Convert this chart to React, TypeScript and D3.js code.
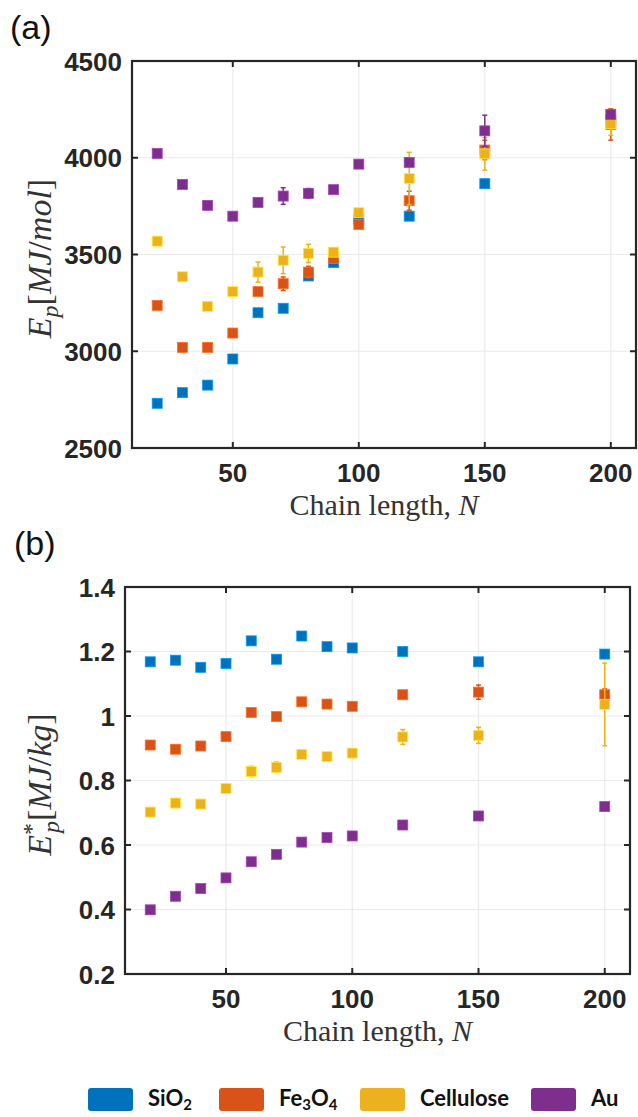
import React, { useEffect, useRef } from 'react';
import * as d3 from 'd3';

// Chain lengths (x values shared by both panels)
const chainLengths = [20, 30, 40, 50, 60, 70, 80, 90, 100, 120, 150, 200];
const materials = ['SiO2', 'Fe3O4', 'Cellulose', 'Au'];
const colors = ['#0072BD', '#D95319', '#EDB120', '#7E2F8E'];

// Panel (a): E_p [MJ/mol]
const epSiO2 = [2731, 2786, 2825, 2960, 3199, 3222, 3389, 3458, 3682, 3698, 3866, 4195];
const epFe3O4 = [3237, 3020, 3020, 3094, 3308, 3349, 3409, 3480, 3655, 3778, 4040, 4172];
const epCellulose = [3569, 3385, 3232, 3308, 3409, 3470, 3506, 3512, 3716, 3893, 4020, 4176];
const epAu = [4022, 3862, 3754, 3698, 3769, 3802, 3816, 3835, 3967, 3976, 4139, 4224];
const epSiO2Err = [5, 5, 5, 5, 5, 5, 5, 5, 5, 5, 5, 5];
const epFe3O4Err = [18, 8, 8, 15, 10, 35, 30, 15, 20, 49, 50, 81];
const epCelluloseErr = [20, 8, 8, 8, 52, 69, 47, 15, 15, 135, 84, 60];
const epAuErr = [8, 8, 8, 8, 18, 43, 25, 10, 8, 10, 81, 15];
const epTicks = [2500, 3000, 3500, 4000, 4500];

// Panel (b): E*_p [MJ/kg]
const epsSiO2 = [1.168, 1.173, 1.151, 1.163, 1.233, 1.176, 1.248, 1.215, 1.211, 1.2, 1.168, 1.192];
const epsFe3O4 = [0.91, 0.897, 0.907, 0.936, 1.011, 0.998, 1.044, 1.037, 1.03, 1.066, 1.074, 1.066];
const epsCellulose = [0.702, 0.73, 0.727, 0.775, 0.828, 0.841, 0.881, 0.874, 0.885, 0.935, 0.94, 1.036];
const epsAu = [0.399, 0.441, 0.465, 0.498, 0.548, 0.571, 0.609, 0.623, 0.628, 0.662, 0.69, 0.719];
const epsSiO2Err = [0.003, 0.003, 0.003, 0.003, 0.003, 0.003, 0.003, 0.003, 0.003, 0.003, 0.003, 0.003];
const epsFe3O4Err = [0.005, 0.005, 0.005, 0.005, 0.005, 0.005, 0.005, 0.005, 0.005, 0.012, 0.022, 0.018];
const epsCelluloseErr = [0.005, 0.005, 0.005, 0.005, 0.016, 0.016, 0.005, 0.005, 0.005, 0.023, 0.025, 0.128];
const epsAuErr = [0.005, 0.005, 0.005, 0.005, 0.005, 0.005, 0.005, 0.005, 0.005, 0.005, 0.012, 0.005];
const epsTicks = [0.2, 0.4, 0.6, 0.8, 1, 1.2, 1.4];

const xTicks = [50, 100, 150, 200];

const tickFont = '"Liberation Sans", Arial, sans-serif';
const mathFont = '"Liberation Serif", "Times New Roman", serif';
const axisColor = '#262626';

function drawPanel(svg, cfg) {
  const { left, right, top, bottom, yDomain, yTicks, fmt, series, errors, label, yLabel } = cfg;

  const x = d3.scaleLinear().domain([10, 210]).range([left, right]);
  const y = d3.scaleLinear().domain(yDomain).range([bottom, top]);
  const g = svg.append('g');

  // grid
  g.selectAll('.gx').data(xTicks).enter().append('line')
    .attr('x1', d => x(d)).attr('x2', d => x(d))
    .attr('y1', top).attr('y2', bottom)
    .attr('stroke', '#ebebeb').attr('stroke-width', 1.2);
  g.selectAll('.gy').data(yTicks).enter().append('line')
    .attr('x1', left).attr('x2', right)
    .attr('y1', d => y(d)).attr('y2', d => y(d))
    .attr('stroke', '#ebebeb').attr('stroke-width', 1.2);

  // inward ticks on all four sides
  const tl = 6;
  xTicks.forEach(t => {
    g.append('line').attr('x1', x(t)).attr('x2', x(t)).attr('y1', bottom).attr('y2', bottom - tl)
      .attr('stroke', axisColor).attr('stroke-width', 2);
    g.append('line').attr('x1', x(t)).attr('x2', x(t)).attr('y1', top).attr('y2', top + tl)
      .attr('stroke', axisColor).attr('stroke-width', 2);
  });
  yTicks.forEach(t => {
    g.append('line').attr('x1', left).attr('x2', left + tl).attr('y1', y(t)).attr('y2', y(t))
      .attr('stroke', axisColor).attr('stroke-width', 2);
    g.append('line').attr('x1', right).attr('x2', right - tl).attr('y1', y(t)).attr('y2', y(t))
      .attr('stroke', axisColor).attr('stroke-width', 2);
  });

  // box
  g.append('rect')
    .attr('x', left).attr('y', top)
    .attr('width', right - left).attr('height', bottom - top)
    .attr('fill', 'none').attr('stroke', axisColor).attr('stroke-width', 2.2);

  // tick labels
  g.selectAll('.xl').data(xTicks).enter().append('text')
    .attr('x', d => x(d)).attr('y', bottom + 34)
    .attr('text-anchor', 'middle')
    .style('font-family', tickFont).style('font-weight', 'bold').style('font-size', '26px')
    .attr('fill', axisColor)
    .text(d => d);
  g.selectAll('.yl').data(yTicks).enter().append('text')
    .attr('x', left - 10).attr('y', d => y(d) + 9.5)
    .attr('text-anchor', 'end')
    .style('font-family', tickFont).style('font-weight', 'bold').style('font-size', '26px')
    .attr('fill', axisColor)
    .text(fmt);

  // series: error bars then markers, one series at a time
  const ms = 10;
  series.forEach((vals, si) => {
    const col = colors[si];
    const sg = g.append('g');
    vals.forEach((v, i) => {
      const e = errors[si][i];
      const cx = x(chainLengths[i]);
      sg.append('line').attr('x1', cx).attr('x2', cx).attr('y1', y(v - e)).attr('y2', y(v + e))
        .attr('stroke', col).attr('stroke-width', 1.5);
      [v - e, v + e].forEach(c => {
        sg.append('line').attr('x1', cx - 2.5).attr('x2', cx + 2.5).attr('y1', y(c)).attr('y2', y(c))
          .attr('stroke', col).attr('stroke-width', 1.5);
      });
    });
    sg.selectAll('rect').data(vals).enter().append('rect')
      .attr('x', (d, i) => x(chainLengths[i]) - ms / 2)
      .attr('y', d => y(d) - ms / 2)
      .attr('width', ms).attr('height', ms)
      .attr('fill', col)
      .attr('stroke', d3.color(col).brighter(0.8).formatHex())
      .attr('stroke-width', 0.8);
  });

  // x label
  const xl = g.append('text')
    .attr('x', (left + right) / 2).attr('y', bottom + 67)
    .attr('text-anchor', 'middle')
    .style('font-family', mathFont).style('font-size', '30px')
    .attr('fill', '#333');
  xl.append('tspan').text('Chain length, ');
  xl.append('tspan').style('font-style', 'italic').text('N');

  // y label
  const yl = g.append('text')
    .attr('transform', `translate(51,${(top + bottom) / 2 + 4}) rotate(-90)`)
    .attr('text-anchor', 'middle')
    .style('font-family', mathFont).style('font-size', '34px')
    .attr('fill', '#333');
  yLabel(yl);

  // panel label
  svg.append('text')
    .attr('x', label.x).attr('y', label.y)
    .style('font-family', tickFont).style('font-size', '34px')
    .attr('fill', '#111')
    .text(label.text);
}

export default function App() {
  const ref = useRef(null);

  useEffect(() => {
    const svg = d3.select(ref.current);
    svg.selectAll('*').remove();

    drawPanel(svg, {
      left: 132, right: 636, top: 61, bottom: 448,
      yDomain: [2500, 4500], yTicks: epTicks, fmt: d => d,
      series: [epSiO2, epFe3O4, epCellulose, epAu],
      errors: [epSiO2Err, epFe3O4Err, epCelluloseErr, epAuErr],
      label: { x: 10, y: 39, text: '(a)' },
      yLabel: t => {
        t.append('tspan').style('font-style', 'italic').text('E');
        t.append('tspan').style('font-style', 'italic').style('font-size', '24px').attr('dy', 7).text('p');
        t.append('tspan').attr('dy', -7).text('[');
        t.append('tspan').style('font-style', 'italic').text('MJ');
        t.append('tspan').text('/');
        t.append('tspan').style('font-style', 'italic').text('mol');
        t.append('tspan').text(']');
      }
    });

    drawPanel(svg, {
      left: 125, right: 630, top: 587, bottom: 974,
      yDomain: [0.2, 1.4], yTicks: epsTicks, fmt: d => (d === 1 ? '1' : d.toFixed(1)),
      series: [epsSiO2, epsFe3O4, epsCellulose, epsAu],
      errors: [epsSiO2Err, epsFe3O4Err, epsCelluloseErr, epsAuErr],
      label: { x: 14, y: 555, text: '(b)' },
      yLabel: t => {
        t.append('tspan').style('font-style', 'italic').text('E');
        t.append('tspan').style('font-size', '24px').attr('dy', -12).text('*');
        t.append('tspan').style('font-style', 'italic').style('font-size', '24px').attr('dx', -10).attr('dy', 20).text('p');
        t.append('tspan').attr('dy', -8).text('[');
        t.append('tspan').style('font-style', 'italic').text('MJ');
        t.append('tspan').text('/');
        t.append('tspan').style('font-style', 'italic').text('kg');
        t.append('tspan').text(']');
      }
    });

    // legend
    const legendX = [88, 219, 360, 531];
    const lg = svg.append('g');
    materials.forEach((m, i) => {
      lg.append('rect')
        .attr('x', legendX[i]).attr('y', 1088)
        .attr('width', 45).attr('height', 23).attr('rx', 3)
        .attr('fill', colors[i]);
      const t = lg.append('text')
        .attr('x', legendX[i] + 60).attr('y', 1106)
        .style('font-family', 'Lato, "Open Sans", sans-serif').style('font-weight', 'bold')
        .style('font-size', '22px').attr('fill', '#111');
      const parts = m.match(/[A-Za-z]+|\d+/g);
      parts.forEach(p => {
        if (/\d/.test(p)) {
          t.append('tspan').style('font-size', '15px').attr('dy', 4).text(p);
        } else {
          const s = t.append('tspan').text(p);
          if (t.selectAll('tspan').size() > 1) s.attr('dy', -4);
        }
      });
    });
  }, []);

  return (
    <svg ref={ref} width={638} height={1117}
      style={{ position: 'absolute', left: 0, top: 0, background: '#fff' }} />
  );
}
